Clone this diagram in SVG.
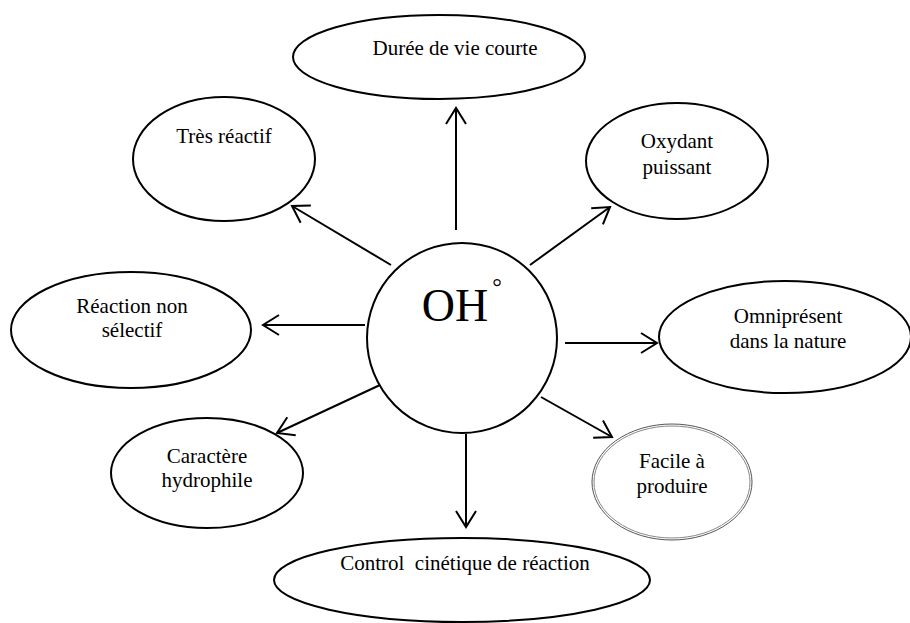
<svg xmlns="http://www.w3.org/2000/svg" width="910" height="623" viewBox="0 0 910 623">
<style>
.n{fill:#fff;stroke:#000;stroke-width:2}
.t{font-family:"Liberation Serif","Times New Roman",serif;font-size:21px;fill:#000;text-anchor:middle}
.c line{stroke:#000;stroke-width:2;marker-end:url(#ah)}
</style>
<defs>
<marker id="ah" viewBox="0 0 20 24" refX="18" refY="12" markerWidth="20" markerHeight="24" markerUnits="userSpaceOnUse" orient="auto">
<path d="M2,2 L18,12 L2,22" fill="none" stroke="#000" stroke-width="2"/>
</marker>
</defs>
<rect width="910" height="623" fill="#fff"/>
<g id="center">
<circle class="n" cx="462" cy="338" r="95"/>
<text class="t" x="455" y="321" style="font-size:46px">OH</text>
<text class="t" x="497" y="295" style="font-size:24px">°</text>
</g>
<g id="duree">
<ellipse class="n" cx="439" cy="57" rx="146" ry="42"/>
<text class="t" x="455" y="55">Durée de vie courte</text>
</g>
<g id="tres">
<ellipse class="n" cx="224" cy="159" rx="91" ry="62"/>
<text class="t" x="224" y="143">Très réactif</text>
</g>
<g id="oxydant">
<ellipse class="n" cx="677" cy="161" rx="91" ry="58"/>
<text class="t" x="677" y="148">Oxydant</text>
<text class="t" x="677" y="174">puissant</text>
</g>
<g id="reaction">
<ellipse class="n" cx="131" cy="330" rx="120" ry="58"/>
<text class="t" x="132" y="313">Réaction non</text>
<text class="t" x="132" y="337">sélectif</text>
</g>
<g id="omni">
<ellipse class="n" cx="785" cy="337" rx="126" ry="56"/>
<text class="t" x="788" y="323">Omniprésent</text>
<text class="t" x="788" y="348">dans la nature</text>
</g>
<g id="caractere">
<ellipse class="n" cx="207" cy="473" rx="96" ry="55"/>
<text class="t" x="207" y="463">Caractère</text>
<text class="t" x="207" y="487">hydrophile</text>
</g>
<g id="facile">
<ellipse cx="672" cy="482" rx="80" ry="58" fill="#fff" stroke="#555" stroke-width="1"/>
<ellipse cx="672" cy="482" rx="78" ry="56" fill="none" stroke="#888" stroke-width="1"/>
<text class="t" x="672" y="468">Facile à</text>
<text class="t" x="672" y="493">produire</text>
</g>
<g id="control">
<ellipse class="n" cx="462" cy="580" rx="188" ry="42"/>
<text class="t" x="465" y="570" xml:space="preserve">Control  cinétique de réaction</text>
</g>
<g class="c" id="connectors">
<line x1="456" y1="230" x2="456" y2="108"/>
<line x1="391" y1="265" x2="292" y2="206"/>
<line x1="530" y1="265" x2="610" y2="207"/>
<line x1="365" y1="325" x2="263" y2="325"/>
<line x1="565" y1="343" x2="657" y2="343"/>
<line x1="380" y1="385" x2="277" y2="433"/>
<line x1="541" y1="397" x2="612" y2="437"/>
<line x1="466" y1="434" x2="466" y2="527"/>
</g>
</svg>
